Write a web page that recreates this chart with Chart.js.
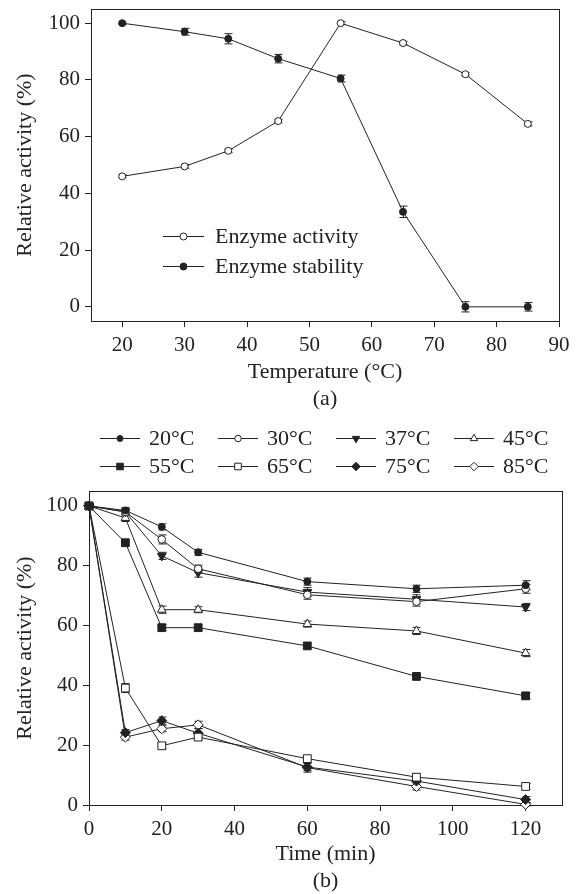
<!DOCTYPE html>
<html>
<head>
<meta charset="utf-8">
<script src="https://cdn.jsdelivr.net/npm/chart.js@4.4.0/dist/chart.umd.min.js"></script>
<style>
body { margin: 0; background: #fff; width: 582px; height: 894px; overflow: hidden; }
canvas { position: absolute; left: 0; }
#tempChart { top: 0; }
#timeChart { top: 420px; }
</style>
</head>
<body>
<canvas id="tempChart" width="582" height="420"></canvas>
<canvas id="timeChart" width="582" height="474"></canvas>
<script>
// (a) effect of temperature
var temperatures = [20, 30, 37, 45, 55, 65, 75, 85];
var enzymeActivity = [46, 49.5, 55, 65.5, 100, 93, 82, 64.5];
var activityErr = [0.5, 0.6, 0.6, 0.6, 0.5, 0.6, 0.6, 0.7];
var enzymeStability = [100, 97, 94.5, 87.5, 80.5, 33.5, 0, 0];
var stabilityErr = [0.4, 1.2, 1.8, 1.5, 1.2, 2, 1.8, 1.5];
var tempTicks = [20, 30, 40, 50, 60, 70, 80, 90];
var activityTicks = [0, 20, 40, 60, 80, 100];

// (b) thermal stability over time
var times = [0, 10, 20, 30, 60, 90, 120];
var seriesNames = ['20°C', '30°C', '37°C', '45°C', '55°C', '65°C', '75°C', '85°C'];
var act20 = [100, 98.5, 93, 84.5, 74.7, 72.3, 73.5];
var act30 = [100, 98, 88.8, 79, 70.3, 68, 72.3];
var act37 = [100, 98, 83.3, 77.7, 71.2, 68.8, 66.2];
var act45 = [100, 96, 65.3, 65.3, 60.5, 58.2, 50.8];
var act55 = [100, 87.7, 59.3, 59.3, 53.2, 43, 36.5];
var act65 = [100, 39.1, 19.8, 22.7, 15.5, 9.3, 6.2];
var act75 = [100, 24.2, 28.2, 24, 12.7, 8, 1.8];
var act85 = [100, 22.7, 25.5, 26.8, 12.5, 6.2, 0.2];
var err20 = [0.5, 1, 1, 1, 1.2, 1.2, 1.5];
var err30 = [0.5, 1, 1.5, 1.2, 1.5, 1.5, 1.5];
var err37 = [0.5, 1, 1.2, 1.5, 1.5, 1.5, 1.2];
var err45 = [0.5, 1.2, 1.2, 1, 1, 1.2, 1.2];
var err55 = [0.5, 1, 1, 1, 0.8, 0.8, 1];
var err65 = [0.5, 1.5, 1, 1, 1, 1.2, 1];
var err75 = [0.5, 1, 1.2, 1.5, 1.2, 1.5, 1];
var err85 = [0.5, 1, 1, 1.2, 1.5, 1.2, 0.5];
var timeTicks = [0, 20, 40, 60, 80, 100, 120];

var INK = '#222';
Chart.defaults.font.family = '"Liberation Serif", "Times New Roman", serif';
Chart.defaults.font.size = 21;
Chart.defaults.color = INK;

function pts(xs, ys) {
    return xs.map((x, i) => ({x: x, y: ys[i]}));
}

function setTicks(list) {
    return function (scale) {
        scale.ticks = list.map(v => ({value: v}));
    };
}

function fixSize(w, h) {
    return function (scale) {
        if (w !== null) scale.width = w;
        if (h !== null) scale.height = h;
        scale.paddingTop = 0;
        scale.paddingBottom = 0;
        scale.paddingLeft = 0;
        scale.paddingRight = 0;
    };
}

function series(label, data, err, style, filled, radius, rotation) {
    return {
        label: label,
        data: data,
        errorBars: err,
        borderColor: INK,
        borderWidth: 1,
        pointStyle: style,
        pointRadius: radius,
        pointRotation: rotation || 0,
        pointBackgroundColor: filled ? INK : '#fff',
        pointBorderColor: INK,
        pointBorderWidth: 1,
        tension: 0,
        fill: false,
        clip: false
    };
}

// frame around the plot + error bars, drawn under the markers
var framePlugin = {
    id: 'frame',
    beforeDatasetsDraw: function (chart) {
        const ctx = chart.ctx, a = chart.chartArea;
        ctx.save();
        ctx.strokeStyle = INK;
        ctx.lineWidth = 1;
        ctx.strokeRect(Math.round(a.left) + 0.5, Math.round(a.top) + 0.5,
            Math.round(a.right - a.left), Math.round(a.bottom - a.top));
        const ys = chart.scales.y;
        chart.data.datasets.forEach((ds, di) => {
            if (!ds.errorBars) return;
            chart.getDatasetMeta(di).data.forEach((p, i) => {
                const e = ds.errorBars[i];
                const v = ds.data[i].y;
                const y1 = ys.getPixelForValue(v + e), y2 = ys.getPixelForValue(v - e);
                const x = Math.round(p.x) + 0.5;
                ctx.beginPath();
                ctx.moveTo(x, y1); ctx.lineTo(x, y2);
                ctx.moveTo(x - 4, y1); ctx.lineTo(x + 4, y1);
                ctx.moveTo(x - 4, y2); ctx.lineTo(x + 4, y2);
                ctx.stroke();
            });
        });
        ctx.restore();
    }
};

// legend entries drawn as  —o—  text
var legendPlugin = {
    id: 'lineLegend',
    afterDraw: function (chart, args, opts) {
        const ctx = chart.ctx;
        ctx.save();
        chart.data.datasets.forEach((ds, i) => {
            const pos = opts.positions[i];
            const x = pos[0], y = pos[1];
            ctx.strokeStyle = INK;
            ctx.lineWidth = 1;
            ctx.beginPath();
            ctx.moveTo(x, y + 0.5); ctx.lineTo(x + opts.lineLength, y + 0.5);
            ctx.stroke();
            ctx.fillStyle = ds.pointBackgroundColor;
            Chart.helpers.drawPoint(ctx, {
                pointStyle: ds.pointStyle,
                radius: ds.pointRadius * opts.markerScale,
                rotation: ds.pointRotation,
                borderWidth: 1
            }, x + opts.lineLength / 2, y + 0.5);
            ctx.fillStyle = INK;
            ctx.font = '22px "Liberation Serif", "Times New Roman", serif';
            ctx.textBaseline = 'middle';
            ctx.textAlign = 'left';
            ctx.fillText(ds.label, x + opts.lineLength + opts.gap, y + 1);
        });
        ctx.restore();
    }
};

function axisOptions(ticks, size, title, titlePad, min, max) {
    return {
        type: 'linear',
        min: min,
        max: max,
        afterBuildTicks: setTicks(ticks),
        afterFit: size,
        border: {display: false},
        grid: {drawOnChartArea: false, tickLength: 6, color: INK, tickColor: INK},
        ticks: {padding: 6, color: INK, autoSkip: false, maxRotation: 0, font: {size: 21}},
        title: {display: true, text: title, color: INK, font: {size: 22}, padding: titlePad}
    };
}

var tempX = axisOptions(tempTicks, fixSize(null, 99), ['Temperature (°C)', '(a)'], {top: 0, bottom: 8}, 15, 90);
var tempY = axisOptions(activityTicks, fixSize(91, null), 'Relative activity (%)', {top: 12, bottom: 0}, -5, 105);
tempY.ticks.padding = 5;

new Chart(document.getElementById('tempChart'), {
    type: 'line',
    data: {
        datasets: [
            series('Enzyme activity', pts(temperatures, enzymeActivity), activityErr, 'circle', false, 3.5),
            series('Enzyme stability', pts(temperatures, enzymeStability), stabilityErr, 'circle', true, 3.5)
        ]
    },
    options: {
        responsive: false,
        animation: false,
        devicePixelRatio: 1,
        layout: {padding: {left: 0, right: 23, top: 9, bottom: 0}},
        scales: {x: tempX, y: tempY},
        plugins: {
            legend: {display: false},
            tooltip: {enabled: false},
            lineLegend: {positions: [[163, 236], [163, 266]], lineLength: 41, gap: 11, markerScale: 1}
        }
    },
    plugins: [framePlugin, legendPlugin]
});

var timeX = axisOptions(timeTicks, fixSize(null, 89), ['Time (min)', '(b)'], {top: 0, bottom: 0}, 0, 130);
var timeY = axisOptions(activityTicks, fixSize(89, null), 'Relative activity (%)', {top: 12, bottom: 0}, 0, 105);
timeY.ticks.padding = 5;

var legendPos = [];
for (var i = 0; i < 8; i++) {
    legendPos.push([100 + (i % 4) * 118, i < 4 ? 18 : 46]);
}

new Chart(document.getElementById('timeChart'), {
    type: 'line',
    data: {
        datasets: [
            series(seriesNames[0], pts(times, act20), err20, 'circle', true, 3.5),
            series(seriesNames[1], pts(times, act30), err30, 'circle', false, 3.8),
            series(seriesNames[2], pts(times, act37), err37, 'triangle', true, 5, 180),
            series(seriesNames[3], pts(times, act45), err45, 'triangle', false, 5),
            series(seriesNames[4], pts(times, act55), err55, 'rect', true, 5.5),
            series(seriesNames[5], pts(times, act65), err65, 'rect', false, 5.5),
            series(seriesNames[6], pts(times, act75), err75, 'rectRot', true, 5),
            series(seriesNames[7], pts(times, act85), err85, 'rectRot', false, 5)
        ]
    },
    options: {
        responsive: false,
        animation: false,
        devicePixelRatio: 1,
        layout: {padding: {left: 0, right: 20, top: 71, bottom: 0}},
        scales: {x: timeX, y: timeY},
        plugins: {
            legend: {display: false},
            tooltip: {enabled: false},
            lineLegend: {positions: legendPos, lineLength: 40, gap: 9, markerScale: 0.85}
        }
    },
    plugins: [framePlugin, legendPlugin]
});
</script>
</body>
</html>
